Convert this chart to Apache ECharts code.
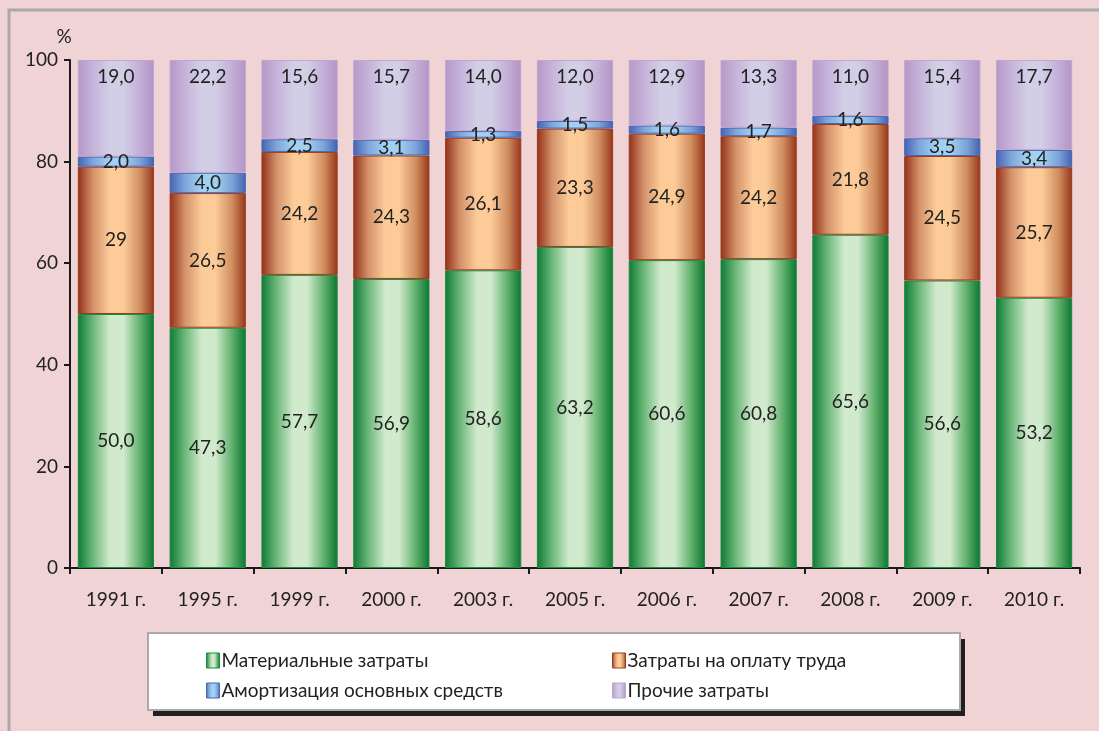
<!DOCTYPE html>
<html>
<head>
<meta charset="utf-8">
<script src="https://cdn.jsdelivr.net/npm/echarts@6/dist/echarts.min.js"></script>
<style>
    html, body { margin: 0; padding: 0; background: #f0d4d5; overflow: hidden; }
    #chart { width: 1099px; height: 731px; }
</style>
</head>
<body>
<div id="chart"></div>
<script>
    // годы
    var years = ['1991 г.', '1995 г.', '1999 г.', '2000 г.', '2003 г.', '2005 г.', '2006 г.', '2007 г.', '2008 г.', '2009 г.', '2010 г.'];
    // значения строками, чтобы подписи были как на картинке ("29" без запятой)
    var material = ['50.0', '47.3', '57.7', '56.9', '58.6', '63.2', '60.6', '60.8', '65.6', '56.6', '53.2'];
    var labour = ['29', '26.5', '24.2', '24.3', '26.1', '23.3', '24.9', '24.2', '21.8', '24.5', '25.7'];
    var amort = ['2.0', '4.0', '2.5', '3.1', '1.3', '1.5', '1.6', '1.7', '1.6', '3.5', '3.4'];
    var other = ['19.0', '22.2', '15.6', '15.7', '14.0', '12.0', '12.9', '13.3', '11.0', '15.4', '17.7'];
    var yTicks = [0, 20, 40, 60, 80, 100];

    var FONT = 'Lato';
    var FS = 19;

    function grad(edge, mid1, center, mid2, edge2) {
        return new echarts.graphic.LinearGradient(0, 0, 1, 0, [
            {offset: 0, color: edge},
            {offset: 0.2, color: mid1},
            {offset: 0.42, color: center},
            {offset: 0.6, color: center},
            {offset: 0.82, color: mid2},
            {offset: 1, color: edge2}
        ]);
    }

    var labelFmt = function (p) {
        return String(p.data).replace('.', ',');
    };

    function series(name, data, color, border, pos, dist) {
        return {
            name: name,
            type: 'bar',
            stack: 'all',
            data: data,
            barCategoryGap: '17%',
            itemStyle: {color: color, borderColor: border, borderWidth: 1},
            label: {
                show: true,
                position: pos,
                distance: dist,
                formatter: labelFmt,
                color: '#222',
                fontFamily: FONT,
                fontSize: FS
            }
        };
    }

    var legendBase = {
        orient: 'vertical',
        top: 646,
        itemGap: 11,
        itemWidth: 13,
        itemHeight: 15,
        icon: 'rect',
        itemStyle: {borderWidth: 1},
        textStyle: {fontFamily: FONT, fontSize: 19, color: '#222', padding: [0, 0, 0, -3]},
        z: 5
    };

    var chart = echarts.init(document.getElementById('chart'));
    chart.setOption({
        backgroundColor: '#f0d4d5',
        animation: false,
        grid: {left: 70, right: 19, top: 60, bottom: 163},
        graphic: [
            {   // рамка (левая и верхняя стороны)
                type: 'polyline',
                shape: {points: [[9, 900], [9, 10], [1300, 10]]},
                style: {fill: null, stroke: '#a9a9ab', lineWidth: 3},
                silent: true
            },
            {   // тень легенды
                type: 'rect',
                shape: {x: 153, y: 639, width: 812, height: 77},
                style: {fill: '#231f20'},
                silent: true,
                z: 0
            },
            {   // рамка легенды
                type: 'rect',
                shape: {x: 148, y: 633, width: 812, height: 77},
                style: {fill: '#fff', stroke: '#aaa', lineWidth: 2},
                silent: true,
                z: 1
            }
        ],
        legend: [
            Object.assign({}, legendBase, {
                data: ['Материальные затраты', 'Амортизация основных средств'],
                left: 201
            }),
            Object.assign({}, legendBase, {
                data: ['Затраты на оплату труда', 'Прочие затраты'],
                left: 607
            })
        ],
        xAxis: {
            type: 'category',
            data: years,
            axisLine: {lineStyle: {color: '#1a1a1a', width: 2}},
            axisTick: {show: true, length: 6, lineStyle: {color: '#1a1a1a', width: 2}},
            axisLabel: {fontFamily: FONT, fontSize: FS, color: '#222', margin: 22}
        },
        yAxis: {
            type: 'value',
            min: 0,
            max: 100,
            interval: 20,
            name: '%',
            nameGap: 14,
            nameTextStyle: {fontFamily: FONT, fontSize: FS, color: '#222', padding: [0, 12, 0, 0]},
            axisLine: {show: true, lineStyle: {color: '#1a1a1a', width: 2}},
            axisTick: {show: true, length: 6, lineStyle: {color: '#1a1a1a', width: 2}},
            axisLabel: {
                fontFamily: FONT, fontSize: FS, color: '#222', margin: 12,
                formatter: function (v) { return yTicks.indexOf(v) >= 0 ? String(v) : ''; }
            },
            splitLine: {show: false}
        },
        series: [
            series('Материальные затраты', material,
                grad('#0e7a34', '#6cb87a', '#d1eacd', '#5fb06c', '#0b7631'), '#1a8a3e', 'inside', 5),
            series('Затраты на оплату труда', labour,
                grad('#92301a', '#d4926a', '#fccb98', '#d08e60', '#963519'), '#9b3a1e', 'inside', 5),
            series('Амортизация основных средств', amort,
                grad('#4562b1', '#7ea7db', '#a2d0f0', '#7ba4d8', '#4361b0'), '#4a66b4', 'inside', 5),
            series('Прочие затраты', other,
                grad('#b597c6', '#c6b3da', '#d2cee6', '#c3aed7', '#b294c4'), '#c0a6d0', 'insideTop', 7)
        ]
    });
</script>
</body>
</html>
